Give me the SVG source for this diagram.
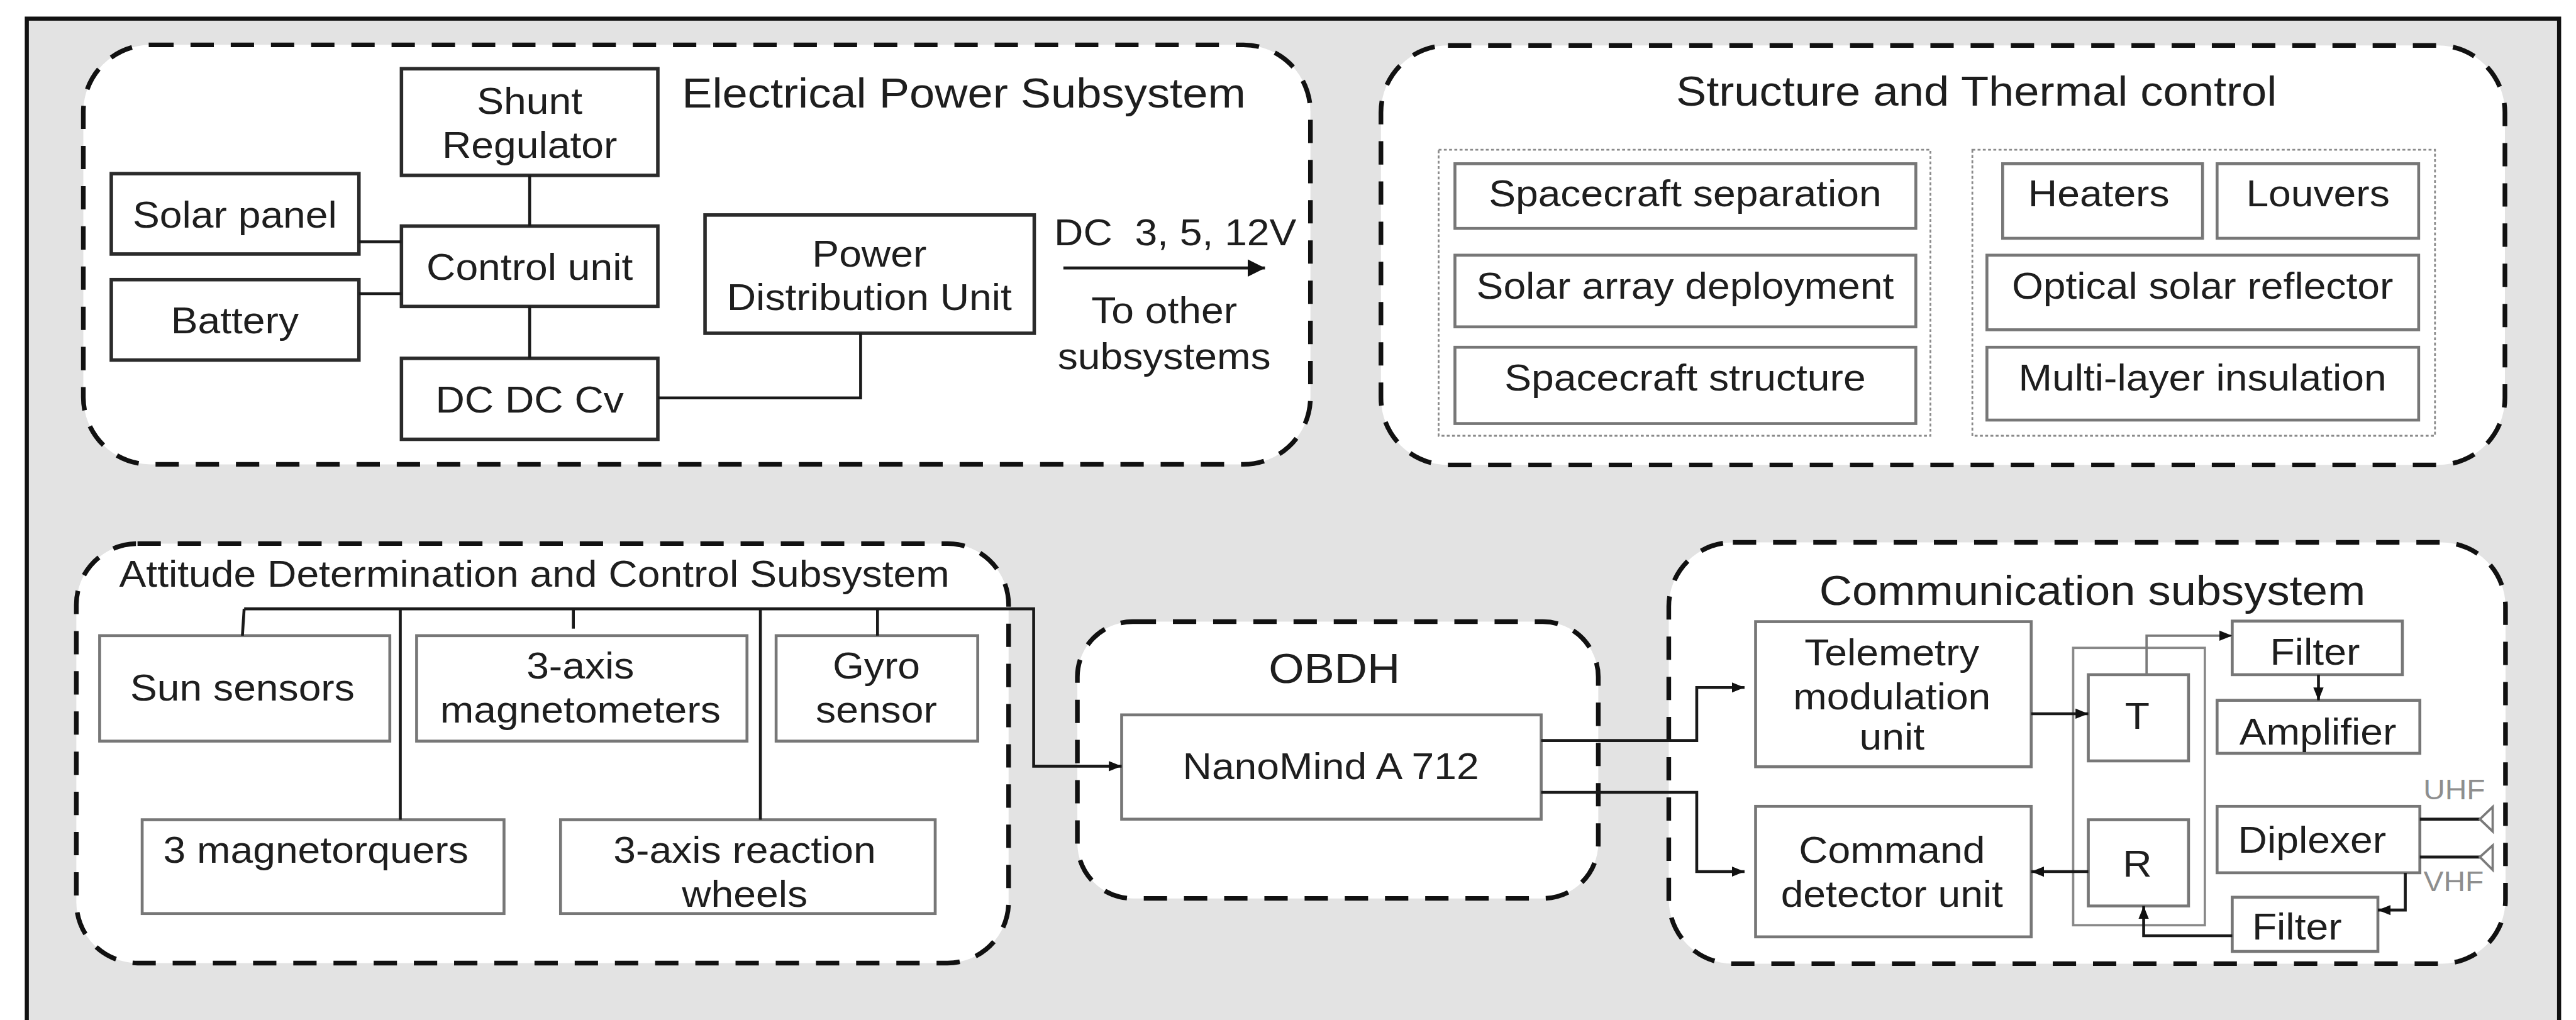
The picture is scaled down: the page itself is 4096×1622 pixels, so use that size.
<svg xmlns="http://www.w3.org/2000/svg" width="4096" height="1622" viewBox="0 0 4096 1622">
<defs>
<style>
text{font-family:"Liberation Sans",Arial,sans-serif;fill:#1e1e1e;text-anchor:middle;dominant-baseline:central;transform-box:fill-box;transform-origin:center;transform:scaleX(1.1)}
.title{font-size:71px}
.lbl{font-size:63px}
.small{font-size:47px;fill:#8e8e8e}
.grp{fill:#fff;stroke:#111;stroke-width:8;stroke-dasharray:40 29}
.dot{fill:none;stroke:#8a8a8a;stroke-width:3;stroke-dasharray:5 4}
.be{fill:#fff;stroke:#2b2b2b;stroke-width:6}
.bg{fill:#fff;stroke:#777;stroke-width:5}
.ln{fill:none;stroke:#1a1a1a;stroke-width:5}
.lg{fill:none;stroke:#7a7a7a;stroke-width:4}
</style>
<marker id="ah" viewBox="0 0 10 10" refX="10" refY="5" markerWidth="22" markerHeight="22" markerUnits="userSpaceOnUse" orient="auto"><path d="M0,1 L10,5 L0,9 z" fill="#111"/></marker>
<marker id="ahb" viewBox="0 0 10 10" refX="10" refY="5" markerWidth="30" markerHeight="30" markerUnits="userSpaceOnUse" orient="auto"><path d="M0,0 L10,5 L0,10 z" fill="#111"/></marker>
</defs>
<g transform="scale(0.92649)">
<rect x="46" y="32" width="4346" height="1800" fill="#e3e3e3" stroke="#111" stroke-width="7"/>

<g id="eps">
<rect class="grp" x="143" y="77" width="2106" height="720" rx="115"/>
<text class="title" x="1654" y="160">Electrical Power Subsystem</text>
<text class="lbl" x="2017" y="399">DC&#160; 3, 5, 12V</text>
<text class="lbl" x="1998" y="533">To other</text>
<text class="lbl" x="1998" y="612">subsystems</text>
</g>
<g id="shunt"><rect class="be" x="689" y="118" width="440" height="183"/><text class="lbl" x="909" y="173">Shunt</text><text class="lbl" x="909" y="249">Regulator</text></g>
<g id="solar"><rect class="be" x="191" y="298" width="425" height="138"/><text class="lbl" x="403" y="369">Solar panel</text></g>
<g id="battery"><rect class="be" x="191" y="480" width="425" height="138"/><text class="lbl" x="403" y="550">Battery</text></g>
<g id="control"><rect class="be" x="689" y="388" width="440" height="138"/><text class="lbl" x="909" y="458">Control unit</text></g>
<g id="dcdc"><rect class="be" x="689" y="615" width="440" height="139"/><text class="lbl" x="909" y="686">DC DC Cv</text></g>
<g id="pdu"><rect class="be" x="1210" y="369" width="565" height="203"/><text class="lbl" x="1492" y="436">Power</text><text class="lbl" x="1492" y="510">Distribution Unit</text></g>

<g id="stc">
<rect class="grp" x="2370" y="78" width="1929" height="720" rx="115"/>
<text class="title" x="3392" y="157">Structure and Thermal control</text>
<rect class="dot" x="2469" y="257" width="844" height="491"/>
<rect class="dot" x="3385" y="257" width="794" height="491"/>
</g>
<g id="sep"><rect class="bg" x="2497" y="281" width="791" height="111"/><text class="lbl" x="2892" y="332">Spacecraft separation</text></g>
<g id="sad"><rect class="bg" x="2497" y="438" width="791" height="123"/><text class="lbl" x="2892" y="491">Solar array deployment</text></g>
<g id="scs"><rect class="bg" x="2497" y="596" width="791" height="131"/><text class="lbl" x="2892" y="648">Spacecraft structure</text></g>
<g id="heaters"><rect class="bg" x="3437" y="281" width="343" height="128"/><text class="lbl" x="3602" y="332">Heaters</text></g>
<g id="louvers"><rect class="bg" x="3805" y="281" width="346" height="128"/><text class="lbl" x="3978" y="332">Louvers</text></g>
<g id="osr"><rect class="bg" x="3410" y="438" width="741" height="128"/><text class="lbl" x="3780" y="491">Optical solar reflector</text></g>
<g id="mli"><rect class="bg" x="3410" y="596" width="741" height="125"/><text class="lbl" x="3780" y="648">Multi-layer insulation</text></g>

<g id="adcs">
<rect class="grp" x="131" y="933" width="1600" height="720" rx="105"/>
<text class="lbl" x="917" y="985">Attitude Determination and Control Subsystem</text>
</g>
<g id="sun"><rect class="bg" x="171" y="1091" width="498" height="181"/><text class="lbl" x="416" y="1180">Sun sensors</text></g>
<g id="mag"><rect class="bg" x="715" y="1091" width="567" height="181"/><text class="lbl" x="996" y="1143">3-axis</text><text class="lbl" x="996" y="1218">magnetometers</text></g>
<g id="gyro"><rect class="bg" x="1332" y="1091" width="346" height="181"/><text class="lbl" x="1504" y="1143">Gyro</text><text class="lbl" x="1504" y="1218">sensor</text></g>
<g id="mtq"><rect class="bg" x="244" y="1407" width="621" height="161"/><text class="lbl" x="542" y="1459">3 magnetorquers</text></g>
<g id="rw"><rect class="bg" x="962" y="1407" width="643" height="161"/><text class="lbl" x="1278" y="1459">3-axis reaction</text><text class="lbl" x="1278" y="1534">wheels</text></g>

<g id="obdh">
<rect class="grp" x="1849" y="1067" width="894" height="475" rx="95"/>
<text class="title" x="2290" y="1148">OBDH</text>
</g>
<g id="nanomind"><rect class="bg" x="1925" y="1227" width="720" height="179"/><text class="lbl" x="2284" y="1315">NanoMind A 712</text></g>

<g id="comm">
<rect class="grp" x="2864" y="931" width="1436" height="723" rx="110"/>
<text class="title" x="3591" y="1014">Communication subsystem</text>
<rect x="3558" y="1112" width="226" height="476" fill="#fff" stroke="#888" stroke-width="4"/>
<text class="small" x="4212" y="1356">UHF</text>
<text class="small" x="4211" y="1514">VHF</text>
</g>
<g id="tmu"><rect class="bg" x="3013" y="1067" width="473" height="249"/><text class="lbl" x="3247" y="1120">Telemetry</text><text class="lbl" x="3247" y="1195">modulation</text><text class="lbl" x="3247" y="1264">unit</text></g>
<g id="cdu"><rect class="bg" x="3013" y="1384" width="473" height="224"/><text class="lbl" x="3247" y="1459">Command</text><text class="lbl" x="3247" y="1534">detector unit</text></g>
<g id="tx"><rect class="bg" x="3584" y="1158" width="172" height="148"/><text class="lbl" x="3668" y="1229">T</text></g>
<g id="rx"><rect class="bg" x="3584" y="1407" width="172" height="148"/><text class="lbl" x="3668" y="1482">R</text></g>
<g id="filter1"><rect class="bg" x="3831" y="1066" width="292" height="92"/><text class="lbl" x="3973" y="1119">Filter</text></g>
<g id="amp"><rect class="bg" x="3805" y="1202" width="348" height="91"/><text class="lbl" x="3978" y="1256">Amplifier</text></g>
<g id="diplexer"><rect class="bg" x="3805" y="1384" width="348" height="114"/><text class="lbl" x="3968" y="1442">Diplexer</text></g>
<g id="filter2"><rect class="bg" x="3831" y="1540" width="250" height="93"/><text class="lbl" x="3942" y="1591">Filter</text></g>

<g id="connectors">
<path class="ln" d="M909,301 V388"/>
<path class="ln" d="M909,526 V615"/>
<path class="ln" d="M616,415 H689"/>
<path class="ln" d="M616,504 H689"/>
<path class="ln" d="M1129,683 H1477 V572"/>
<path class="ln" d="M1825,460 H2171" stroke-width="10" marker-end="url(#ahb)"/>
<path class="ln" d="M419,1045 H1774 V1315 H1925" marker-end="url(#ah)"/>
<path class="ln" d="M419,1045 L416,1091"/>
<path class="ln" d="M984,1045 V1079"/>
<path class="ln" d="M1506,1045 V1091"/>
<path class="ln" d="M687,1045 V1407"/>
<path class="ln" d="M1305,1045 V1407"/>
<path class="ln" d="M2645,1271 H2912 V1180 H2994" marker-end="url(#ah)"/>
<path class="ln" d="M2645,1360 H2912 V1496 H2994" stroke="#333" stroke-width="7" marker-end="url(#ah)"/>
<path class="ln" d="M3486,1225 H3584" stroke="#333" stroke-width="7" marker-end="url(#ah)"/>
<path class="ln" d="M3584,1496 H3486" stroke="#444" stroke-width="7" marker-end="url(#ah)"/>
<path class="lg" d="M3684,1158 V1091 H3831" marker-end="url(#ah)"/>
<path class="ln" d="M3979,1158 V1202" stroke-width="4" marker-end="url(#ah)"/>
<path class="ln" d="M4153,1406 H4258"/>
<path class="lg" d="M4278,1385 L4256,1406 L4278,1427 Z"/>
<path class="ln" d="M4153,1471 H4258"/>
<path class="lg" d="M4278,1451 L4256,1471 L4278,1493 Z"/>
<path class="ln" d="M4128,1498 V1562 H4081" stroke-width="4" marker-end="url(#ah)"/>
<path class="ln" d="M3831,1606 H3679 V1555" marker-end="url(#ah)"/>
</g>
</g>
</svg>
